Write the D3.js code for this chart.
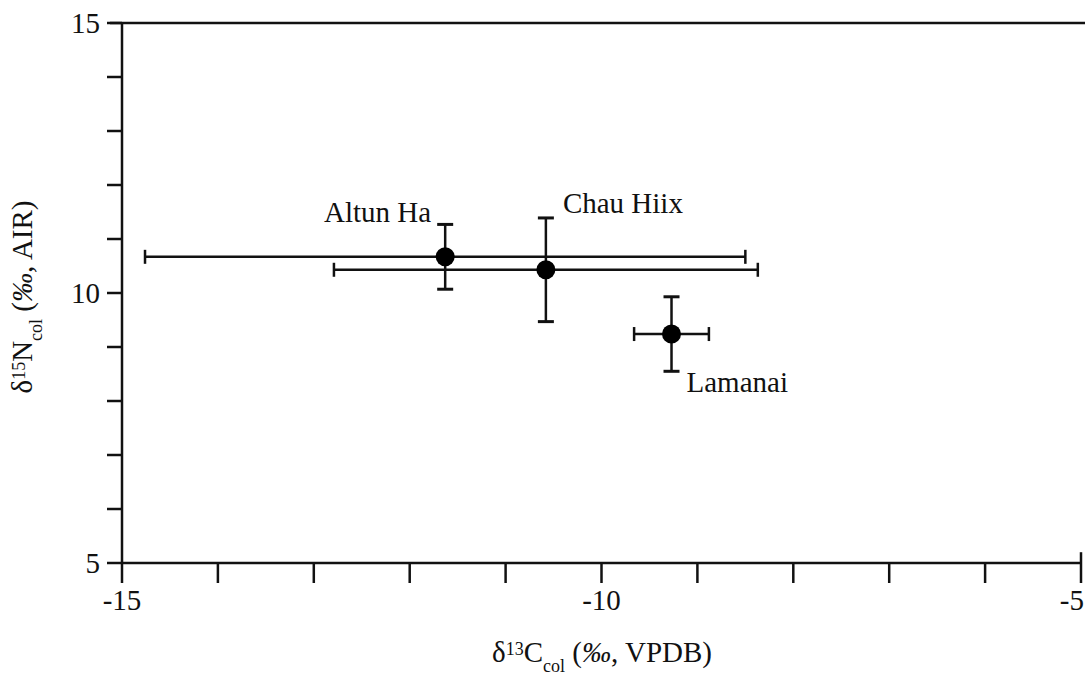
<!DOCTYPE html>
<html>
<head>
<meta charset="utf-8">
<script src="https://cdn.jsdelivr.net/npm/d3@7"></script>
<style>
  body { margin: 0; background: #fff; }
  text { font-family: "Liberation Serif", "DejaVu Serif", serif; fill: #111; }
</style>
</head>
<body>
<div id="chart"></div>
<script>
var sites = ['Altun Ha', 'Chau Hiix', 'Lamanai']
var carbon = [-11.63, -10.58, -9.27]
var carbonErr = [3.13, 2.21, 0.39]
var nitrogen = [10.67, 10.43, 9.24]
var nitrogenErr = [0.6, 0.96, 0.69]

var xTicks = [-15, -14, -13, -12, -11, -10, -9, -8, -7, -6, -5]
var xLabels = [-15, -10, -5]
var yTicks = [5, 6, 7, 8, 9, 10, 11, 12, 13, 14, 15]
var yLabels = [5, 10, 15]

var chartWidth = 1085
var chartHeight = 683

var margin = { left: 122, right: 4, top: 23, bottom: 120 }

var svg = d3.select('#chart')
  .append('svg')
  .attr('width', chartWidth)
  .attr('height', chartHeight)

var x = d3.scaleLinear().domain([-15, -5]).range([margin.left, chartWidth - margin.right])
var y = d3.scaleLinear().domain([5, 15]).range([chartHeight - margin.bottom, margin.top])

var stroke = '#111'
var sw = 2.5

// frame: top line, left axis, bottom axis
svg.append('line')
  .attr('x1', x(-15) - 12).attr('x2', chartWidth)
  .attr('y1', y(15)).attr('y2', y(15))
  .attr('stroke', stroke).attr('stroke-width', sw)

svg.append('line')
  .attr('x1', x(-15)).attr('x2', x(-15))
  .attr('y1', y(15)).attr('y2', y(5))
  .attr('stroke', stroke).attr('stroke-width', sw)

svg.append('line')
  .attr('x1', x(-15)).attr('x2', x(-5))
  .attr('y1', y(5)).attr('y2', y(5))
  .attr('stroke', stroke).attr('stroke-width', sw)

// x ticks
svg.selectAll('.xtick')
  .data(xTicks)
  .enter()
  .append('line')
  .attr('class', 'xtick')
  .attr('x1', function(d) { return x(d) })
  .attr('x2', function(d) { return x(d) })
  .attr('y1', function(d) { return d == -5 ? y(5.2) : y(5) })
  .attr('y2', y(5) + 20)
  .attr('stroke', stroke).attr('stroke-width', sw)

svg.selectAll('.xlab')
  .data(xLabels)
  .enter()
  .append('text')
  .attr('class', 'xlab')
  .attr('x', function(d) { return d == -5 ? chartWidth - 1 : x(d) })
  .attr('y', y(5) + 47)
  .attr('text-anchor', function(d) { return d == -5 ? 'end' : 'middle' })
  .style('font-size', '29px')
  .text(function(d) { return d })

// y ticks
svg.selectAll('.ytick')
  .data(yTicks)
  .enter()
  .append('line')
  .attr('class', 'ytick')
  .attr('x1', x(-15) - 15)
  .attr('x2', x(-15))
  .attr('y1', function(d) { return y(d) })
  .attr('y2', function(d) { return y(d) })
  .attr('stroke', stroke).attr('stroke-width', sw)

svg.selectAll('.ylab')
  .data(yLabels)
  .enter()
  .append('text')
  .attr('class', 'ylab')
  .attr('x', x(-15) - 22)
  .attr('y', function(d) { return y(d) })
  .attr('dy', '0.35em')
  .attr('text-anchor', 'end')
  .style('font-size', '29px')
  .text(function(d) { return d })

// error bars
var data = sites.map(function(s, i) {
  return { site: s, c: carbon[i], ce: carbonErr[i], n: nitrogen[i], ne: nitrogenErr[i] }
})

var g = svg.append('g')

g.selectAll('.hbar')
  .data(data)
  .enter()
  .append('line')
  .attr('x1', function(d) { return x(d.c - d.ce) })
  .attr('x2', function(d) { return x(d.c + d.ce) })
  .attr('y1', function(d) { return y(d.n) })
  .attr('y2', function(d) { return y(d.n) })
  .attr('stroke', stroke).attr('stroke-width', sw)

data.forEach(function(d) {
  [d.c - d.ce, d.c + d.ce].forEach(function(v) {
    g.append('line')
      .attr('x1', x(v)).attr('x2', x(v))
      .attr('y1', y(d.n) - 7).attr('y2', y(d.n) + 7)
      .attr('stroke', stroke).attr('stroke-width', sw)
  });
  [d.n - d.ne, d.n + d.ne].forEach(function(v) {
    g.append('line')
      .attr('x1', x(d.c) - 8).attr('x2', x(d.c) + 8)
      .attr('y1', y(v)).attr('y2', y(v))
      .attr('stroke', stroke).attr('stroke-width', 3)
  })
})

g.selectAll('.vbar')
  .data(data)
  .enter()
  .append('line')
  .attr('x1', function(d) { return x(d.c) })
  .attr('x2', function(d) { return x(d.c) })
  .attr('y1', function(d) { return y(d.n - d.ne) })
  .attr('y2', function(d) { return y(d.n + d.ne) })
  .attr('stroke', stroke).attr('stroke-width', sw)

g.selectAll('circle')
  .data(data)
  .enter()
  .append('circle')
  .attr('cx', function(d) { return x(d.c) })
  .attr('cy', function(d) { return y(d.n) })
  .attr('r', 9.5)
  .attr('fill', '#000')

// site labels (offsets from each point)
var labelPos = {
  'Altun Ha': { dx: -14, dy: -35, anchor: 'end' },
  'Chau Hiix': { dx: 17, dy: -57, anchor: 'start' },
  'Lamanai': { dx: 15, dy: 58, anchor: 'start' }
}

g.selectAll('.site')
  .data(data)
  .enter()
  .append('text')
  .attr('x', function(d) { return x(d.c) + labelPos[d.site].dx })
  .attr('y', function(d) { return y(d.n) + labelPos[d.site].dy })
  .attr('text-anchor', function(d) { return labelPos[d.site].anchor })
  .style('font-size', '29px')
  .text(function(d) { return d.site })

// axis titles
var xt = svg.append('text')
  .attr('x', 602)
  .attr('y', 662)
  .attr('text-anchor', 'middle')
  .style('font-size', '29px')
xt.append('tspan').text('δ')
xt.append('tspan').attr('baseline-shift', '7').style('font-size', '18px').text('13')
xt.append('tspan').text('C')
xt.append('tspan').attr('baseline-shift', '-10').style('font-size', '18px').text('col')
xt.append('tspan').text(' (')
xt.append('tspan').style('font-style', 'italic').text('‰')
xt.append('tspan').text(', VPDB)')

var yt = svg.append('text')
  .attr('transform', 'translate(32,297) rotate(-90)')
  .attr('text-anchor', 'middle')
  .style('font-size', '29px')
yt.append('tspan').text('δ')
yt.append('tspan').attr('baseline-shift', '7').style('font-size', '18px').text('15')
yt.append('tspan').text('N')
yt.append('tspan').attr('baseline-shift', '-10').style('font-size', '18px').text('col')
yt.append('tspan').text(' (')
yt.append('tspan').style('font-style', 'italic').text('‰')
yt.append('tspan').text(', AIR)')
</script>
</body>
</html>
